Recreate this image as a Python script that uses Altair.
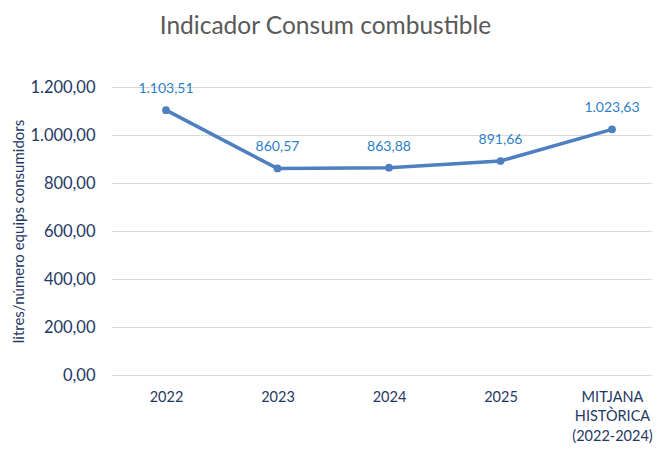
import altair as alt
import pandas as pd

categories = ["2022", "2023", "2024", "2025", "MITJANA|HISTÒRICA|(2022-2024)"]
values = [1103.51, 860.57, 863.88, 891.66, 1023.63]

df = pd.DataFrame({"cat": categories, "val": values})

FONT = "Lato"
NAVY = "#1f3864"
LINE = "#4e7fc0"
LABEL = "#2e7fc8"

x = alt.X(
    "cat:N",
    sort=categories,
    scale=alt.Scale(type="point", padding=0.426, align=0.579),
    axis=alt.Axis(
        title=None,
        labelExpr="split(datum.label, '|')",
        labelAngle=0,
        labelFont=FONT,
        labelFontSize=14.5,
        labelColor=NAVY,
        labelPadding=15,
        labelLineHeight=19.5,
        labelBaseline="top",
        ticks=False,
        domain=False,
        grid=False,
    ),
)
y = alt.Y(
    "val:Q",
    scale=alt.Scale(domain=[0, 1200]),
    axis=alt.Axis(
        title="litres/número equips consumidors",
        titleFont=FONT,
        titleFontSize=15,
        titleFontWeight="normal",
        titleColor=NAVY,
        titleX=-93,
        titleY=144,
        titleAlign="center",
        titleBaseline="middle",
        titleAngle=270,
        values=[0, 200, 400, 600, 800, 1000, 1200],
        format=",.2f",
        labelFont=FONT,
        labelFontSize=16.5,
        labelColor=NAVY,
        labelPadding=16,
        ticks=False,
        domain=False,
        gridColor="#d9d9d9",
        gridWidth=1.2,
    ),
)

base = alt.Chart(df)
line = base.mark_line(color=LINE, strokeWidth=3.5).encode(x=x, y=y)
pts = base.mark_point(filled=True, color=LINE, size=60, opacity=1).encode(x=x, y=y)
txt = base.mark_text(dy=-21, font=FONT, fontSize=14, color=LABEL).encode(
    x=x, y=y, text=alt.Text("val:Q", format=",.2f")
)

chart = (
    alt.layer(line, pts, txt)
    .properties(
        width=541,
        height=288,
        autosize=alt.AutoSizeParams(type="none"),
        padding={"left": 103, "top": 79, "right": 1, "bottom": 68},
        title=alt.TitleParams(
            "Indicador Consum combustible",
            font=FONT,
            fontSize=24.5,
            fontWeight="normal",
            color="#595959",
            anchor="middle",
            frame="group",
            dx=-56,
            offset=40,
        ),
    )
    .configure(
        locale={
            "number": {
                "decimal": ",",
                "thousands": ".",
                "grouping": [3],
                "currency": ["", "€"],
            }
        }
    )
    .configure_view(stroke=None)
)

chart.save("out.html", embed_options={"renderer": "svg", "actions": False})
